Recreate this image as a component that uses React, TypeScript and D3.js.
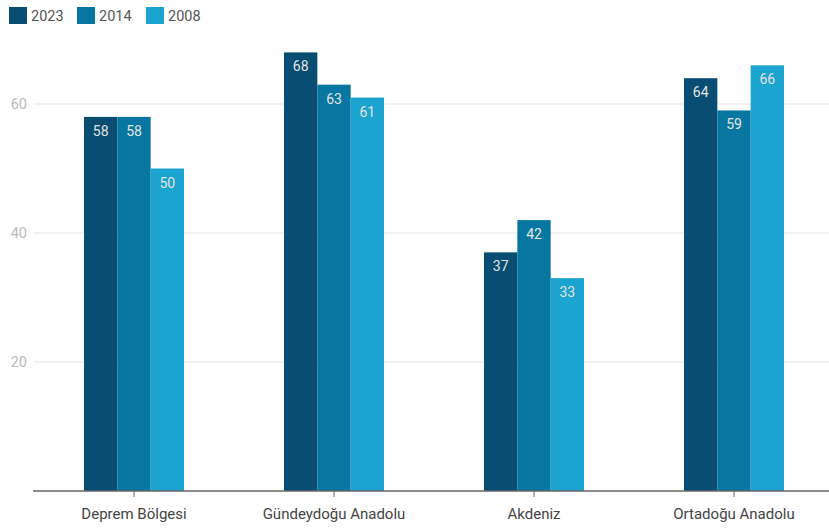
import React from "react";
import * as d3 from "d3";

const categories = ["Deprem Bölgesi", "Gündeydoğu Anadolu", "Akdeniz", "Ortadoğu Anadolu"];
const seriesNames = ["2023", "2014", "2008"];
const values2023 = [58, 68, 37, 64];
const values2014 = [58, 63, 42, 59];
const values2008 = [50, 61, 33, 66];
const yTicks = [20, 40, 60];
const colors = ["#074e72", "#0777a1", "#1ca4d1"];

export default function App() {
  const W = 829, H = 528;
  const series = [values2023, values2014, values2008];
  const x0 = d3.scaleBand<string>().domain(categories).range([34, 834]).paddingInner(0.5).paddingOuter(0.25);
  const x1 = d3.scaleBand<string>().domain(seriesNames).range([0, x0.bandwidth()]);
  const y = d3.scaleLinear().domain([0, 60]).range([491, 104]);
  const font = "Roboto, 'Noto Sans', sans-serif";
  const legendX = [9, 77, 146];
  return (
    <svg width={W} height={H} style={{ position: "absolute", left: 0, top: 0 }} fontFamily={font}>
      <rect width={W} height={H} fill="#fff" />
      {seriesNames.map((s, i) => (
        <g key={s}>
          <rect x={legendX[i]} y={7} width={18} height={17} fill={colors[i]} />
          <text x={legendX[i] + 22} y={21} fontSize={14.5} fill="#555">{s}</text>
        </g>
      ))}
      {yTicks.map((t) => (
        <g key={t}>
          <line x1={34} x2={829} y1={y(t)} y2={y(t)} stroke="#eeeeee" strokeWidth={1.5} />
          <text x={27} y={y(t) + 5} fontSize={14.5} fill="#bbb" textAnchor="end">{t}</text>
        </g>
      ))}
      {categories.map((c, ci) => (
        <g key={c} transform={`translate(${x0(c)},0)`}>
          {seriesNames.map((s, si) => {
            const v = series[si][ci];
            const bx = x1(s)!;
            return (
              <g key={s}>
                <rect x={bx} y={y(v)} width={x1.bandwidth()} height={y(0) - y(v)} fill={colors[si]} />
                <text x={bx + x1.bandwidth() / 2} y={y(v) + 19} fontSize={14} fill="#e3e3e3" textAnchor="middle">{v}</text>
              </g>
            );
          })}
        </g>
      ))}
      <line x1={33} x2={829} y1={491} y2={491} stroke="#666" strokeWidth={1.5} />
      {categories.map((c) => {
        const cx = x0(c)! + x0.bandwidth() / 2;
        return (
          <g key={c}>
            <line x1={cx} x2={cx} y1={491} y2={497} stroke="#666" strokeWidth={1} />
            <text x={cx} y={519} fontSize={15} fill="#444" textAnchor="middle">{c}</text>
          </g>
        );
      })}
    </svg>
  );
}
